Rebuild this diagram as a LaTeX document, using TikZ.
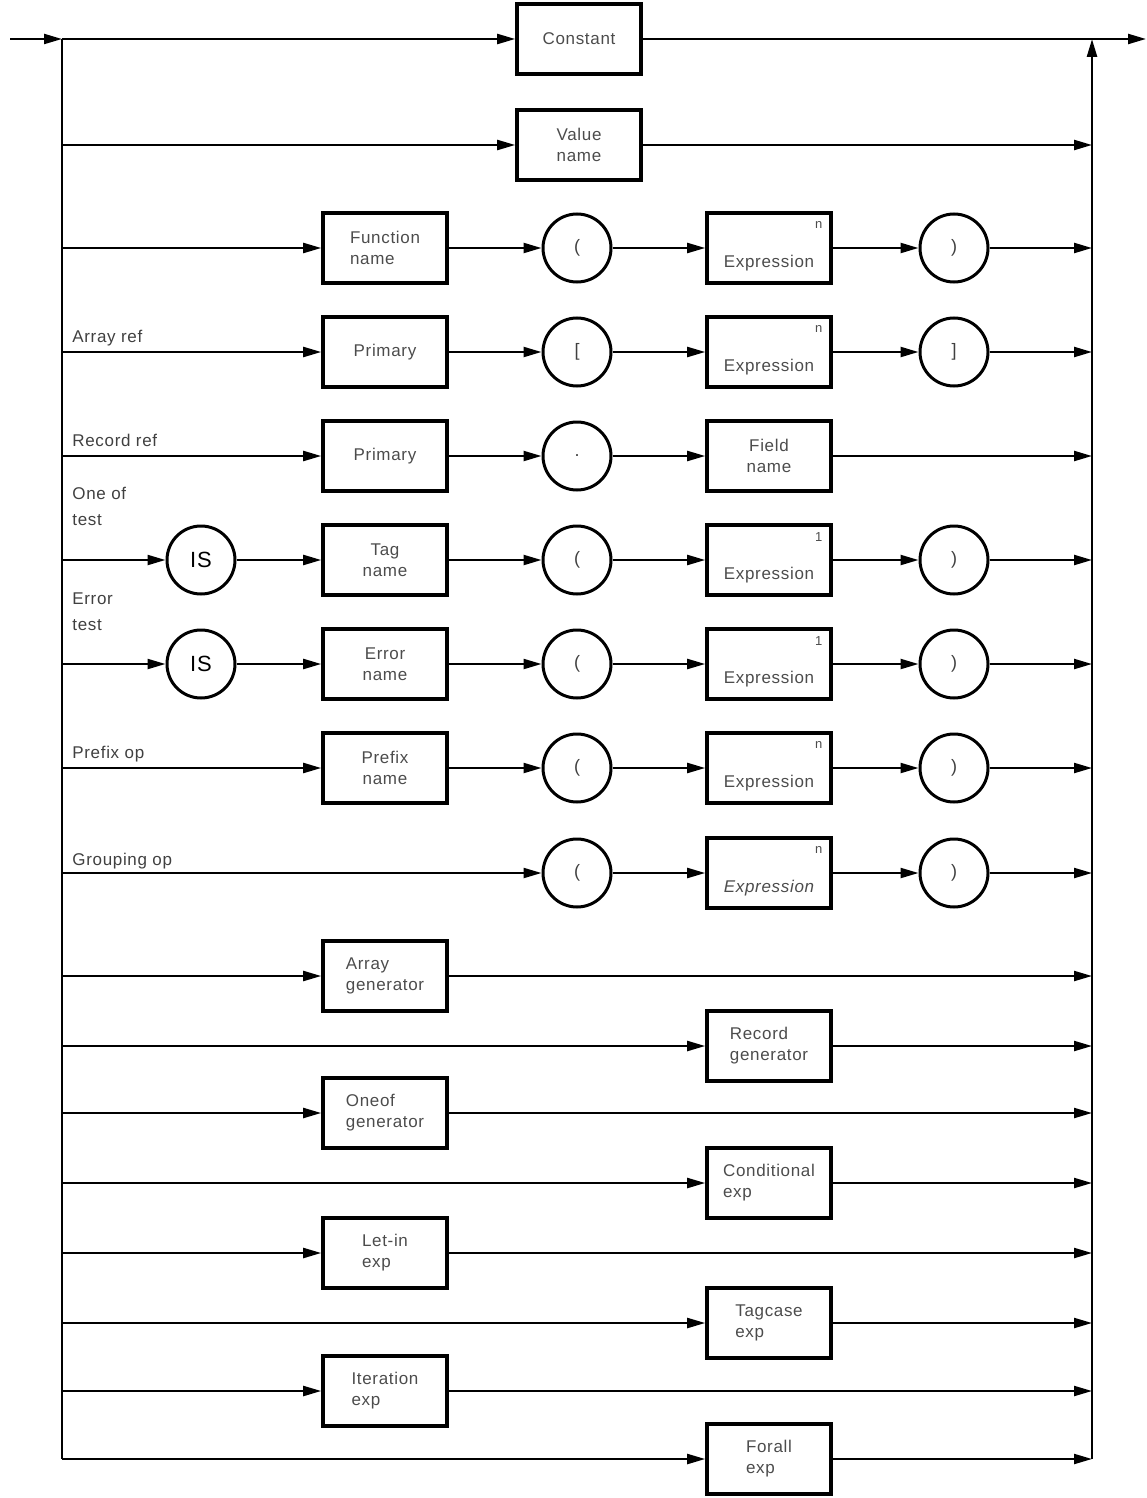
\documentclass[tikz,border=0pt]{standalone}
\usepackage{fontspec}
\setmainfont{Liberation Sans}[LetterSpace=4]
\usetikzlibrary{arrows.meta}

\tikzset{
  rail/.style={line width=1.1pt},
  flow/.style={rail,-{Triangle[length=9pt,width=5pt]}},
  box/.style={draw,line width=1.8pt,minimum width=62pt,minimum height=35pt,inner sep=1pt,align=center,text=black!70,font=\fontsize{8.5}{10.5}\selectfont},
  lbox/.style={box,align=left},
  ring/.style={draw,circle,line width=1.5pt,minimum size=34pt,inner sep=0pt,text=black!75,font=\fontsize{9}{10}\selectfont},
  isring/.style={ring,text=black,font=\fontsize{11}{12}\selectfont},
  word/.style={inner sep=0pt,text=black!70,font=\fontsize{8.5}{10.5}\selectfont},
  tag/.style={anchor=base west,inner sep=0pt,align=left,text=black!75,font=\fontsize{8.5}{13}\selectfont},
  sup/.style={inner sep=0pt,text=black!70,font=\fontsize{6.5}{7}\selectfont}
}

\begin{document}
\begin{tikzpicture}[x=0.5pt,y=-0.5pt]
  \useasboundingbox (0,0) rectangle (1146,1498);
  \foreach \r/\y in {1/39,2/145,3/248,4/352,5/456,6/560,7/664,8/768,9/873,10/976,11/1046,12/1113,13/1183,14/1253,15/1323,16/1391,17/1459}{
    \coordinate (L\r) at (62,\y);
    \coordinate (R\r) at (1092,\y);
  }
  \coordinate (in) at (10,39);
  \coordinate (out) at (1146,39);

  \node[box] (const) at (579,39) {Constant};
  \node[box] (valname) at (579,145) {Value\\name};

  \node[lbox] (fnname) at (385,248) {Function\\name};
  \node[ring] (fnopen) at (577,248) {(};
  \node[box] (fnexp) at (769,248) {};
  \node[word] (fnexpt) at ([yshift=-7.5pt]fnexp.center) {Expression};
  \node[sup] (fnexpn) at ([shift={(-7pt,-7pt)}]fnexp.north east) {n};
  \node[ring] (fnclose) at (954,248) {)};

  \node[tag] (arrlab) at (72,342) {Array ref};
  \node[box] (arrprim) at (385,352) {Primary};
  \node[ring] (arropen) at (577,352) {[};
  \node[box] (arrexp) at (769,352) {};
  \node[word] (arrexpt) at ([yshift=-7.5pt]arrexp.center) {Expression};
  \node[sup] (arrexpn) at ([shift={(-7pt,-7pt)}]arrexp.north east) {n};
  \node[ring] (arrclose) at (954,352) {]};

  \node[tag] (reclab) at (72,446) {Record ref};
  \node[box] (recprim) at (385,456) {Primary};
  \node[ring] (recdot) at (577,456) {.};
  \node[box] (recfield) at (769,456) {Field\\name};

  \node[tag] (oolab) at (72,525) {One of\\test};
  \node[isring] (oois) at (201,560) {IS};
  \node[box] (ootag) at (385,560) {Tag\\name};
  \node[ring] (ooopen) at (577,560) {(};
  \node[box] (ooexp) at (769,560) {};
  \node[word] (ooexpt) at ([yshift=-7.5pt]ooexp.center) {Expression};
  \node[sup] (ooexpn) at ([shift={(-7pt,-7pt)}]ooexp.north east) {1};
  \node[ring] (ooclose) at (954,560) {)};

  \node[tag] (errlab) at (72,630) {Error\\test};
  \node[isring] (erris) at (201,664) {IS};
  \node[box] (errname) at (385,664) {Error\\name};
  \node[ring] (erropen) at (577,664) {(};
  \node[box] (errexp) at (769,664) {};
  \node[word] (errexpt) at ([yshift=-7.5pt]errexp.center) {Expression};
  \node[sup] (errexpn) at ([shift={(-7pt,-7pt)}]errexp.north east) {1};
  \node[ring] (errclose) at (954,664) {)};

  \node[tag] (prelab) at (72,758) {Prefix op};
  \node[box] (prename) at (385,768) {Prefix\\name};
  \node[ring] (preopen) at (577,768) {(};
  \node[box] (preexp) at (769,768) {};
  \node[word] (preexpt) at ([yshift=-7.5pt]preexp.center) {Expression};
  \node[sup] (preexpn) at ([shift={(-7pt,-7pt)}]preexp.north east) {n};
  \node[ring] (preclose) at (954,768) {)};

  \node[tag] (grplab) at (72,865) {Grouping op};
  \node[ring] (grpopen) at (577,873) {(};
  \node[box] (grpexp) at (769,873) {};
  \node[word,font=\fontsize{8.5}{10.5}\selectfont\itshape] (grpexpt) at ([yshift=-7.5pt]grpexp.center) {Expression};
  \node[sup] (grpexpn) at ([shift={(-7pt,-7pt)}]grpexp.north east) {n};
  \node[ring] (grpclose) at (954,873) {)};

  \node[lbox] (arrgen) at (385,976) {Array\\generator};
  \node[lbox] (recgen) at (769,1046) {Record\\generator};
  \node[lbox] (oogen) at (385,1113) {Oneof\\generator};
  \node[lbox] (condexp) at (769,1183) {Conditional\\exp};
  \node[lbox] (letexp) at (385,1253) {Let-in\\exp};
  \node[lbox] (tcexp) at (769,1323) {Tagcase\\exp};
  \node[lbox] (iterexp) at (385,1391) {Iteration\\exp};
  \node[lbox] (faexp) at (769,1459) {Forall\\exp};

  \draw[rail,line width=1.3pt] (L1) -- (L17);
  \draw[flow,line width=1.3pt] (R17) -- (R1);

  \draw[flow] (in) -- (L1);
  \draw[flow] (L1) -- (const);
  \draw[flow] (const) -- (out);

  \draw[flow] (L2) -- (valname);
  \draw[flow] (valname) -- (R2);

  \draw[flow] (L3) -- (fnname);
  \draw[flow] (fnname) -- (fnopen);
  \draw[flow] (fnopen) -- (fnexp);
  \draw[flow] (fnexp) -- (fnclose);
  \draw[flow] (fnclose) -- (R3);

  \draw[flow] (L4) -- (arrprim);
  \draw[flow] (arrprim) -- (arropen);
  \draw[flow] (arropen) -- (arrexp);
  \draw[flow] (arrexp) -- (arrclose);
  \draw[flow] (arrclose) -- (R4);

  \draw[flow] (L5) -- (recprim);
  \draw[flow] (recprim) -- (recdot);
  \draw[flow] (recdot) -- (recfield);
  \draw[flow] (recfield) -- (R5);

  \draw[flow] (L6) -- (oois);
  \draw[flow] (oois) -- (ootag);
  \draw[flow] (ootag) -- (ooopen);
  \draw[flow] (ooopen) -- (ooexp);
  \draw[flow] (ooexp) -- (ooclose);
  \draw[flow] (ooclose) -- (R6);

  \draw[flow] (L7) -- (erris);
  \draw[flow] (erris) -- (errname);
  \draw[flow] (errname) -- (erropen);
  \draw[flow] (erropen) -- (errexp);
  \draw[flow] (errexp) -- (errclose);
  \draw[flow] (errclose) -- (R7);

  \draw[flow] (L8) -- (prename);
  \draw[flow] (prename) -- (preopen);
  \draw[flow] (preopen) -- (preexp);
  \draw[flow] (preexp) -- (preclose);
  \draw[flow] (preclose) -- (R8);

  \draw[flow] (L9) -- (grpopen);
  \draw[flow] (grpopen) -- (grpexp);
  \draw[flow] (grpexp) -- (grpclose);
  \draw[flow] (grpclose) -- (R9);

  \draw[flow] (L10) -- (arrgen);
  \draw[flow] (arrgen) -- (R10);
  \draw[flow] (L11) -- (recgen);
  \draw[flow] (recgen) -- (R11);
  \draw[flow] (L12) -- (oogen);
  \draw[flow] (oogen) -- (R12);
  \draw[flow] (L13) -- (condexp);
  \draw[flow] (condexp) -- (R13);
  \draw[flow] (L14) -- (letexp);
  \draw[flow] (letexp) -- (R14);
  \draw[flow] (L15) -- (tcexp);
  \draw[flow] (tcexp) -- (R15);
  \draw[flow] (L16) -- (iterexp);
  \draw[flow] (iterexp) -- (R16);
  \draw[flow] (L17) -- (faexp);
  \draw[flow] (faexp) -- (R17);
\end{tikzpicture}
\end{document}
